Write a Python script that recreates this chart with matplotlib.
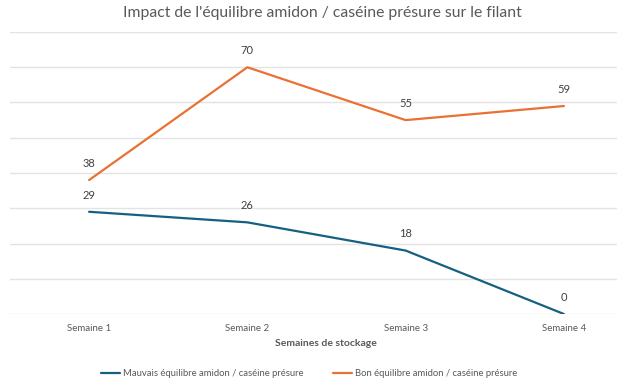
import matplotlib
matplotlib.use('Agg')
import matplotlib.pyplot as plt

semaines = ['Semaine 1', 'Semaine 2', 'Semaine 3', 'Semaine 4']
mauvais = [29, 26, 18, 0]
bon = [38, 70, 55, 59]
y_ticks = [0, 10, 20, 30, 40, 50, 60, 70, 80]

plt.rcParams['font.family'] = ['Lato', 'DejaVu Sans']

fig = plt.figure(figsize=(6.17, 3.81), dpi=100)
# the chart area runs past the right edge, as in the (cropped) screenshot
ax = fig.add_axes([10 / 617, 67 / 381, 633 / 617, 282 / 381])

x = range(len(semaines))
ax.plot(x, mauvais, color='#156082', lw=1.6, solid_capstyle='round',
        label='Mauvais équilibre amidon / caséine présure')
ax.plot(x, bon, color='#E97132', lw=1.6, solid_capstyle='round',
        label='Bon équilibre amidon / caséine présure')

for xi, v in zip(x, mauvais):
    ax.annotate(str(v), (xi, v), xytext=(0, 8), textcoords='offset points',
                ha='center', va='bottom', fontsize=8, color='#404040')
for xi, v in zip(x, bon):
    ax.annotate(str(v), (xi, v), xytext=(0, 8), textcoords='offset points',
                ha='center', va='bottom', fontsize=8, color='#404040')

ax.set_xlim(-0.5, 3.5)
ax.set_ylim(0, 80)
ax.set_yticks(y_ticks)
ax.set_yticklabels([])
ax.tick_params(axis='y', length=0)
ax.set_xticks(list(x))
ax.set_xticklabels(semaines, fontsize=7, color='#595959')
ax.tick_params(axis='x', length=0, pad=7)
ax.grid(axis='y', color='#E3E3E3', lw=1)
ax.set_axisbelow(True)
for s in ax.spines.values():
    s.set_visible(False)

fig.text(322 / 617, 1 - 13 / 381, "Impact de l'équilibre amidon / caséine présure sur le filant",
         ha='center', va='center', fontsize=11.3, color='#595959')
fig.text(326 / 617, 1 - 344 / 381, 'Semaines de stockage', ha='center', va='center',
         fontsize=7.5, fontweight='bold', color='#595959')

fig.legend(loc='center', bbox_to_anchor=(309 / 617, 1 - 374 / 381), ncol=2,
           frameon=False, fontsize=6.8, handlelength=2.0, handletextpad=0.3,
           columnspacing=3.2, labelcolor='#595959')

fig.savefig('out.png', dpi=100)
